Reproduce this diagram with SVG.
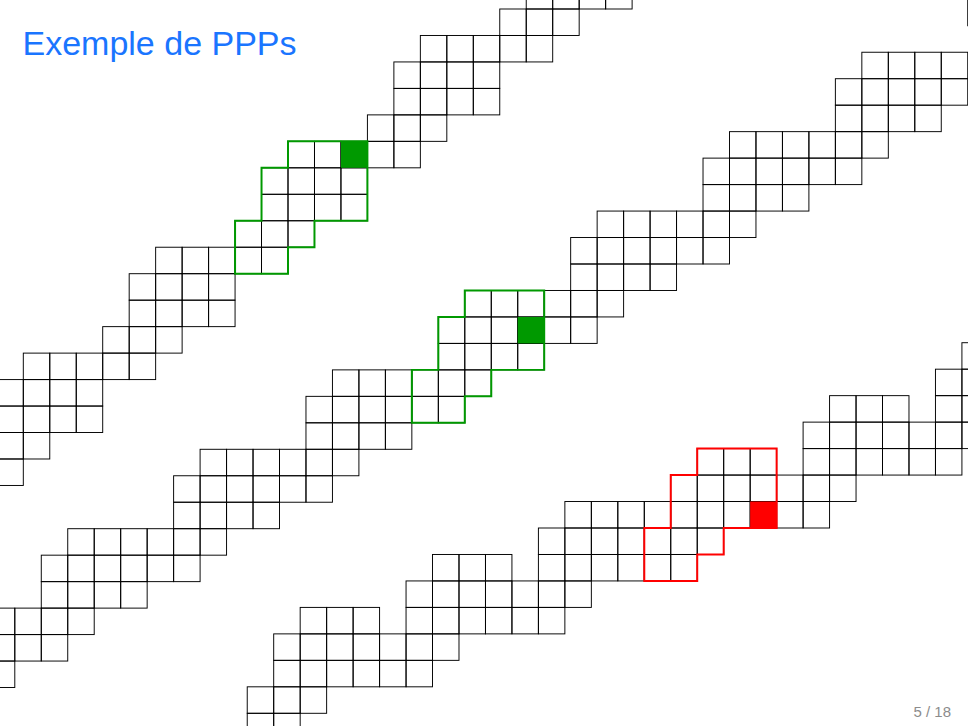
<svg xmlns="http://www.w3.org/2000/svg" width="968" height="726" viewBox="0 0 968 726">
<style>
.grid{fill:none;stroke:#000;stroke-width:0.036}
.gout{fill:none;stroke:#009900;stroke-width:0.075;stroke-linejoin:miter}
.rout{fill:none;stroke:#ff0000;stroke-width:0.075;stroke-linejoin:miter}
.title{font-family:"Liberation Sans",Arial,sans-serif;font-size:34px;fill:#1a75ff}
.page{font-family:"Liberation Sans",Arial,sans-serif;font-size:15px;fill:#8c8c8c}
</style>
<defs><rect id="c" width="1" height="1"/></defs>
<rect width="968" height="726" fill="#fff"/>
<text class="title" x="22.5" y="55">Exemple de PPPs</text>
<text class="page" x="951" y="716.5" text-anchor="end">5 / 18</text>

<g id="strip1" transform="translate(23.3,9) scale(26.47)">
<g class="grid">
<use href="#c" x="19" y="-1"/><use href="#c" x="20" y="-1"/><use href="#c" x="21" y="-1"/><use href="#c" x="22" y="-1"/>
<use href="#c" x="18" y="0"/><use href="#c" x="19" y="0"/><use href="#c" x="20" y="0"/>
<use href="#c" x="15" y="1"/><use href="#c" x="16" y="1"/><use href="#c" x="17" y="1"/><use href="#c" x="18" y="1"/><use href="#c" x="19" y="1"/>
<use href="#c" x="14" y="2"/><use href="#c" x="15" y="2"/><use href="#c" x="16" y="2"/><use href="#c" x="17" y="2"/>
<use href="#c" x="14" y="3"/><use href="#c" x="15" y="3"/><use href="#c" x="16" y="3"/><use href="#c" x="17" y="3"/>
<use href="#c" x="13" y="4"/><use href="#c" x="14" y="4"/><use href="#c" x="15" y="4"/>
<use href="#c" x="10" y="5"/><use href="#c" x="11" y="5"/><use href="#c" x="12" y="5"/><use href="#c" x="13" y="5"/><use href="#c" x="14" y="5"/>
<use href="#c" x="9" y="6"/><use href="#c" x="10" y="6"/><use href="#c" x="11" y="6"/><use href="#c" x="12" y="6"/>
<use href="#c" x="9" y="7"/><use href="#c" x="10" y="7"/><use href="#c" x="11" y="7"/><use href="#c" x="12" y="7"/>
<use href="#c" x="8" y="8"/><use href="#c" x="9" y="8"/><use href="#c" x="10" y="8"/>
<use href="#c" x="5" y="9"/><use href="#c" x="6" y="9"/><use href="#c" x="7" y="9"/><use href="#c" x="8" y="9"/><use href="#c" x="9" y="9"/>
<use href="#c" x="4" y="10"/><use href="#c" x="5" y="10"/><use href="#c" x="6" y="10"/><use href="#c" x="7" y="10"/>
<use href="#c" x="4" y="11"/><use href="#c" x="5" y="11"/><use href="#c" x="6" y="11"/><use href="#c" x="7" y="11"/>
<use href="#c" x="3" y="12"/><use href="#c" x="4" y="12"/><use href="#c" x="5" y="12"/>
<use href="#c" x="0" y="13"/><use href="#c" x="1" y="13"/><use href="#c" x="2" y="13"/><use href="#c" x="3" y="13"/><use href="#c" x="4" y="13"/>
<use href="#c" x="-1" y="14"/><use href="#c" x="0" y="14"/><use href="#c" x="1" y="14"/><use href="#c" x="2" y="14"/>
<use href="#c" x="-1" y="15"/><use href="#c" x="0" y="15"/><use href="#c" x="1" y="15"/><use href="#c" x="2" y="15"/>
<use href="#c" x="-1" y="16"/><use href="#c" x="0" y="16"/>
<use href="#c" x="-1" y="17"/>
</g>
<rect x="12" y="5" width="1" height="1" fill="#009900"/>
<polygon class="gout" points="10,5 13,5 13,8 11,8 11,9 10,9 10,10 8,10 8,8 9,8 9,6 10,6"/>
</g>

<g id="strip2" transform="translate(14.8,-0.7) scale(26.47)">
<g class="grid">
<use href="#c" x="36" y="0"/>
<use href="#c" x="32" y="2"/><use href="#c" x="33" y="2"/><use href="#c" x="34" y="2"/><use href="#c" x="35" y="2"/>
<use href="#c" x="31" y="3"/><use href="#c" x="32" y="3"/><use href="#c" x="33" y="3"/><use href="#c" x="34" y="3"/><use href="#c" x="35" y="3"/>
<use href="#c" x="31" y="4"/><use href="#c" x="32" y="4"/><use href="#c" x="33" y="4"/><use href="#c" x="34" y="4"/>
<use href="#c" x="27" y="5"/><use href="#c" x="28" y="5"/><use href="#c" x="29" y="5"/><use href="#c" x="30" y="5"/><use href="#c" x="31" y="5"/><use href="#c" x="32" y="5"/>
<use href="#c" x="26" y="6"/><use href="#c" x="27" y="6"/><use href="#c" x="28" y="6"/><use href="#c" x="29" y="6"/><use href="#c" x="30" y="6"/><use href="#c" x="31" y="6"/>
<use href="#c" x="26" y="7"/><use href="#c" x="27" y="7"/><use href="#c" x="28" y="7"/><use href="#c" x="29" y="7"/>
<use href="#c" x="22" y="8"/><use href="#c" x="23" y="8"/><use href="#c" x="24" y="8"/><use href="#c" x="25" y="8"/><use href="#c" x="26" y="8"/><use href="#c" x="27" y="8"/>
<use href="#c" x="21" y="9"/><use href="#c" x="22" y="9"/><use href="#c" x="23" y="9"/><use href="#c" x="24" y="9"/><use href="#c" x="25" y="9"/><use href="#c" x="26" y="9"/>
<use href="#c" x="21" y="10"/><use href="#c" x="22" y="10"/><use href="#c" x="23" y="10"/><use href="#c" x="24" y="10"/>
<use href="#c" x="17" y="11"/><use href="#c" x="18" y="11"/><use href="#c" x="19" y="11"/><use href="#c" x="20" y="11"/><use href="#c" x="21" y="11"/><use href="#c" x="22" y="11"/>
<use href="#c" x="16" y="12"/><use href="#c" x="17" y="12"/><use href="#c" x="18" y="12"/><use href="#c" x="19" y="12"/><use href="#c" x="20" y="12"/><use href="#c" x="21" y="12"/>
<use href="#c" x="16" y="13"/><use href="#c" x="17" y="13"/><use href="#c" x="18" y="13"/><use href="#c" x="19" y="13"/>
<use href="#c" x="12" y="14"/><use href="#c" x="13" y="14"/><use href="#c" x="14" y="14"/><use href="#c" x="15" y="14"/><use href="#c" x="16" y="14"/><use href="#c" x="17" y="14"/>
<use href="#c" x="11" y="15"/><use href="#c" x="12" y="15"/><use href="#c" x="13" y="15"/><use href="#c" x="14" y="15"/><use href="#c" x="15" y="15"/><use href="#c" x="16" y="15"/>
<use href="#c" x="11" y="16"/><use href="#c" x="12" y="16"/><use href="#c" x="13" y="16"/><use href="#c" x="14" y="16"/>
<use href="#c" x="7" y="17"/><use href="#c" x="8" y="17"/><use href="#c" x="9" y="17"/><use href="#c" x="10" y="17"/><use href="#c" x="11" y="17"/><use href="#c" x="12" y="17"/>
<use href="#c" x="6" y="18"/><use href="#c" x="7" y="18"/><use href="#c" x="8" y="18"/><use href="#c" x="9" y="18"/><use href="#c" x="10" y="18"/><use href="#c" x="11" y="18"/>
<use href="#c" x="6" y="19"/><use href="#c" x="7" y="19"/><use href="#c" x="8" y="19"/><use href="#c" x="9" y="19"/>
<use href="#c" x="2" y="20"/><use href="#c" x="3" y="20"/><use href="#c" x="4" y="20"/><use href="#c" x="5" y="20"/><use href="#c" x="6" y="20"/><use href="#c" x="7" y="20"/>
<use href="#c" x="1" y="21"/><use href="#c" x="2" y="21"/><use href="#c" x="3" y="21"/><use href="#c" x="4" y="21"/><use href="#c" x="5" y="21"/><use href="#c" x="6" y="21"/>
<use href="#c" x="1" y="22"/><use href="#c" x="2" y="22"/><use href="#c" x="3" y="22"/><use href="#c" x="4" y="22"/>
<use href="#c" x="-1" y="23"/><use href="#c" x="0" y="23"/><use href="#c" x="1" y="23"/><use href="#c" x="2" y="23"/>
<use href="#c" x="-1" y="24"/><use href="#c" x="0" y="24"/><use href="#c" x="1" y="24"/>
<use href="#c" x="-1" y="25"/>
</g>
<rect x="19" y="12" width="1" height="1" fill="#009900"/>
<polygon class="gout" points="17,11 20,11 20,14 18,14 18,15 17,15 17,16 15,16 15,14 16,14 16,12 17,12"/>
</g>

<g id="strip3" transform="translate(9,-1.4) scale(26.47)">
<g class="grid">
<use href="#c" x="36" y="13"/>
<use href="#c" x="35" y="14"/><use href="#c" x="36" y="14"/>
<use href="#c" x="31" y="15"/><use href="#c" x="32" y="15"/><use href="#c" x="33" y="15"/><use href="#c" x="35" y="15"/><use href="#c" x="36" y="15"/>
<use href="#c" x="30" y="16"/><use href="#c" x="31" y="16"/><use href="#c" x="32" y="16"/><use href="#c" x="33" y="16"/><use href="#c" x="34" y="16"/><use href="#c" x="35" y="16"/><use href="#c" x="36" y="16"/>
<use href="#c" x="26" y="17"/><use href="#c" x="27" y="17"/><use href="#c" x="28" y="17"/><use href="#c" x="30" y="17"/><use href="#c" x="31" y="17"/><use href="#c" x="32" y="17"/><use href="#c" x="33" y="17"/><use href="#c" x="34" y="17"/><use href="#c" x="35" y="17"/>
<use href="#c" x="25" y="18"/><use href="#c" x="26" y="18"/><use href="#c" x="27" y="18"/><use href="#c" x="28" y="18"/><use href="#c" x="29" y="18"/><use href="#c" x="30" y="18"/><use href="#c" x="31" y="18"/>
<use href="#c" x="21" y="19"/><use href="#c" x="22" y="19"/><use href="#c" x="23" y="19"/><use href="#c" x="24" y="19"/><use href="#c" x="25" y="19"/><use href="#c" x="26" y="19"/><use href="#c" x="27" y="19"/><use href="#c" x="28" y="19"/><use href="#c" x="29" y="19"/><use href="#c" x="30" y="19"/>
<use href="#c" x="20" y="20"/><use href="#c" x="21" y="20"/><use href="#c" x="22" y="20"/><use href="#c" x="23" y="20"/><use href="#c" x="24" y="20"/><use href="#c" x="25" y="20"/><use href="#c" x="26" y="20"/>
<use href="#c" x="16" y="21"/><use href="#c" x="17" y="21"/><use href="#c" x="18" y="21"/><use href="#c" x="20" y="21"/><use href="#c" x="21" y="21"/><use href="#c" x="22" y="21"/><use href="#c" x="23" y="21"/><use href="#c" x="24" y="21"/><use href="#c" x="25" y="21"/>
<use href="#c" x="15" y="22"/><use href="#c" x="16" y="22"/><use href="#c" x="17" y="22"/><use href="#c" x="18" y="22"/><use href="#c" x="19" y="22"/><use href="#c" x="20" y="22"/><use href="#c" x="21" y="22"/>
<use href="#c" x="11" y="23"/><use href="#c" x="12" y="23"/><use href="#c" x="13" y="23"/><use href="#c" x="15" y="23"/><use href="#c" x="16" y="23"/><use href="#c" x="17" y="23"/><use href="#c" x="18" y="23"/><use href="#c" x="19" y="23"/><use href="#c" x="20" y="23"/>
<use href="#c" x="10" y="24"/><use href="#c" x="11" y="24"/><use href="#c" x="12" y="24"/><use href="#c" x="13" y="24"/><use href="#c" x="14" y="24"/><use href="#c" x="15" y="24"/><use href="#c" x="16" y="24"/>
<use href="#c" x="10" y="25"/><use href="#c" x="11" y="25"/><use href="#c" x="12" y="25"/><use href="#c" x="13" y="25"/><use href="#c" x="14" y="25"/><use href="#c" x="15" y="25"/>
<use href="#c" x="9" y="26"/><use href="#c" x="10" y="26"/><use href="#c" x="11" y="26"/>
<use href="#c" x="9" y="27"/><use href="#c" x="10" y="27"/>
</g>
<rect x="28" y="19" width="1" height="1" fill="#ff0000"/>
<polygon class="rout" points="26,17 29,17 29,20 27,20 27,21 26,21 26,22 24,22 24,20 25,20 25,18 26,18"/>
</g>
</svg>
